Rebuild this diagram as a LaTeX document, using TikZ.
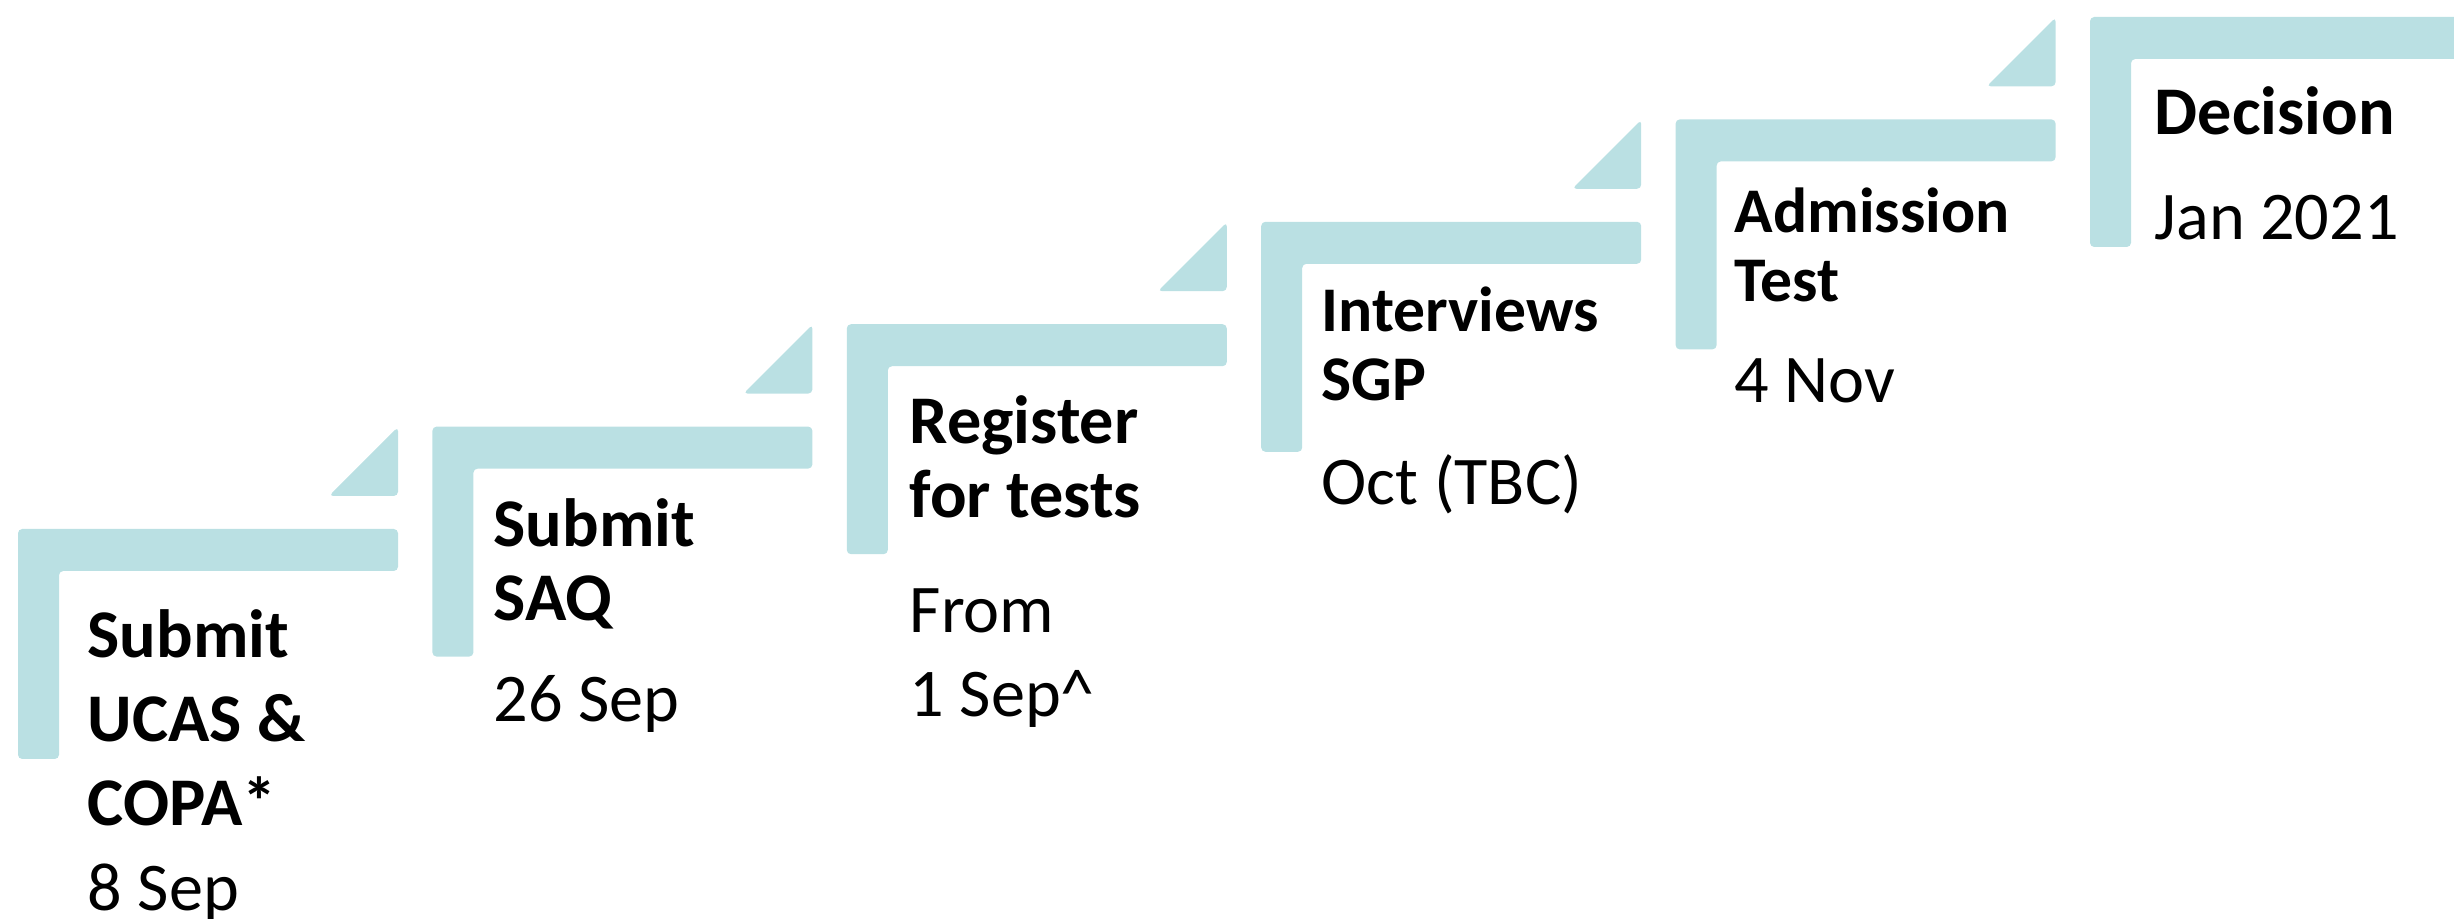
\documentclass[tikz,border=0pt]{standalone}
\usepackage{fontspec}
\setmainfont{Carlito}
\definecolor{stepteal}{HTML}{BAE0E3}

\begin{document}
\begin{tikzpicture}[x=0.01cm, y=-0.01cm,
  stepbar/.style={fill=stepteal, rounded corners=1.2pt},
  title/.style={anchor=base west, inner sep=0pt, align=left, font=\fontsize{19.4}{21.1}\selectfont\bfseries},
  smalltitle/.style={title, font=\fontsize{18.1}{19.9}\selectfont\bfseries},
  date/.style={anchor=base west, inner sep=0pt, align=left, font=\fontsize{19.4}{23.9}\selectfont}]
\clip (0,0) rectangle (2454,919);

% Stair brackets
\foreach \i in {0,...,5} {
  \pgfmathsetmacro{\L}{18+414.4*\i}
  \pgfmathsetmacro{\T}{529-102.4*\i}
  \fill[stepbar] (\L,\T) -- ++(380,0) -- ++(0,42) -- ++(-339,0) -- ++(0,188) -- ++(-41,0) -- cycle;
}

% Small wedges above each step
\foreach \i in {0,...,4} {
  \pgfmathsetmacro{\L}{18+414.4*\i}
  \pgfmathsetmacro{\T}{529-102.4*\i}
  \fill[stepbar] (\L+311,\T-33) -- ++(69,0) -- ++(0,-69) -- cycle;
}

% Step texts (placed at the baseline of their last line)
\node[title, font=\fontsize{19.4}{23.9}\selectfont\bfseries] (ucas) at (87,826) {Submit\\UCAS \&\\COPA*};
\node[date] (ucasdate) at (87,910) {8 Sep};

\node[title] (saq) at (493,621) {Submit\\SAQ};
\node[date] (saqdate) at (493,722) {26 Sep};

\node[title] (register) at (909,518) {Register\\for tests};
\node[date] (registerdate) at (909,717) {From\\1 Sep\textasciicircum};

\node[smalltitle] (interviews) at (1321,401) {Interviews\\SGP};
\node[date] (interviewsdate) at (1321,505) {Oct (TBC)};

\node[smalltitle] (admission) at (1734,302) {Admission\\Test};
\node[date] (admissiondate) at (1734,403) {4 Nov};

\node[title] (decision) at (2154,135) {Decision};
\node[date] (decisiondate) at (2154,240) {Jan 2021};

\end{tikzpicture}
\end{document}
